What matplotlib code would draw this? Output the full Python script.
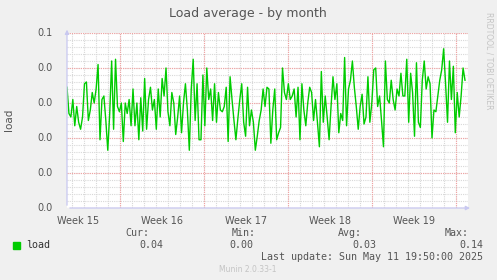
import numpy as np
import matplotlib
matplotlib.use("Agg")
import matplotlib.pyplot as plt

# ---- data ----
load_values = [
    0.069, 0.054, 0.052, 0.062, 0.047, 0.058, 0.049, 0.045, 0.052, 0.071,
    0.072, 0.050, 0.056, 0.066, 0.060, 0.068, 0.082, 0.039, 0.062, 0.064,
    0.050, 0.033, 0.054, 0.084, 0.045, 0.085, 0.058, 0.055, 0.060, 0.038,
    0.060, 0.054, 0.062, 0.047,
    0.068, 0.047, 0.060, 0.039, 0.063, 0.044, 0.074, 0.045, 0.062, 0.069,
    0.056, 0.062, 0.045, 0.068, 0.052, 0.074, 0.064, 0.080, 0.055, 0.047,
    0.066, 0.060, 0.042, 0.052, 0.064, 0.043, 0.060, 0.071, 0.056, 0.033,
    0.068, 0.085, 0.050, 0.071, 0.039,
    0.039, 0.076, 0.047, 0.080, 0.062, 0.068, 0.050, 0.071, 0.049, 0.066,
    0.056, 0.055, 0.058, 0.069, 0.038, 0.075, 0.062, 0.050, 0.039, 0.051,
    0.062, 0.071, 0.049, 0.041, 0.069, 0.047, 0.056, 0.049, 0.033, 0.041,
    0.050, 0.056, 0.068, 0.058, 0.069,
    0.068, 0.037, 0.056, 0.068, 0.039, 0.043, 0.046, 0.080, 0.066, 0.062,
    0.071, 0.062, 0.064, 0.068, 0.052, 0.069, 0.039, 0.071, 0.056, 0.047,
    0.060, 0.069, 0.066, 0.050, 0.062, 0.049, 0.035, 0.078, 0.049, 0.064,
    0.052, 0.039, 0.058, 0.075, 0.062,
    0.071, 0.043, 0.054, 0.050, 0.086, 0.047, 0.068, 0.073, 0.084, 0.069,
    0.058, 0.045, 0.058, 0.065, 0.048, 0.052, 0.075, 0.049, 0.060, 0.079,
    0.080, 0.058, 0.064, 0.050, 0.035, 0.084, 0.062, 0.060, 0.073, 0.062,
    0.056, 0.068, 0.064, 0.077, 0.064,
    0.064, 0.085, 0.049, 0.077, 0.066, 0.041, 0.083, 0.049, 0.046, 0.073,
    0.084, 0.068, 0.075, 0.071, 0.040, 0.056, 0.055, 0.064, 0.073, 0.079,
    0.091, 0.071, 0.049, 0.084, 0.062, 0.081, 0.043, 0.066, 0.052, 0.064,
    0.080, 0.073,
]
week_labels = ["Week 15", "Week 16", "Week 17", "Week 18", "Week 19"]
week_starts = [-2.58, 4.42, 11.42, 18.42, 25.42]  # days from left edge
y_tick_values = [0.0, 0.02, 0.04, 0.06, 0.08, 0.1]
y_tick_labels = ["0.0", "0.0", "0.0", "0.0", "0.0", "0.1"]
legend_name = "load"
stat_names = ["Cur:", "Min:", "Avg:", "Max:"]
stat_values = ["0.04", "0.00", "0.03", "0.14"]
last_update = "Last update: Sun May 11 19:50:00 2025"
x_span_days = 401 / 12.0
data_span_days = 398 / 12.0

W, H = 497, 280
fig = plt.figure(figsize=(W / 100, H / 100), dpi=100, facecolor="#F0F0F0")
ax = fig.add_axes([67 / W, 1 - 208 / H, 401 / W, 175 / H])
ax.set_facecolor("white")

n = len(load_values)
xs = np.arange(n) * (data_span_days / (n - 1))
ax.set_xlim(0, x_span_days)
ax.set_ylim(0, 0.1)

# minor grid
grey = "#d8d8d8"
red = "#f2a0a0"
for d in np.arange(0.42, x_span_days, 1.0):
    ax.axvline(d, color=grey, lw=0.8, ls=(0, (1, 1)), zorder=1)
for yv in np.arange(0, 0.1001, 0.004):
    ax.axhline(yv, color=grey, lw=0.8, ls=(0, (1, 1)), zorder=1)
for ws in week_starts[1:]:
    ax.axvline(ws, color=red, lw=0.8, ls=(0, (1, 1)), zorder=2)
ax.axvline(week_starts[-1] + 7, color=red, lw=0.8, ls=(0, (1, 1)), zorder=2)
for yv in y_tick_values:
    ax.axhline(yv, color=red, lw=0.8, ls=(0, (1, 1)), zorder=2)

ax.plot(xs, load_values, color="#00CC00", lw=1.0, zorder=3)

for s in ax.spines.values():
    s.set_visible(False)
ax.set_xticks([])
ax.set_yticks([])

txtc = "#555555"
for yv, lab in zip(y_tick_values, y_tick_labels):
    ax.text(-0.035, yv, lab, transform=ax.get_yaxis_transform(), ha="right",
            va="center", fontsize=7, color=txtc)
for ws, lab in zip(week_starts, week_labels):
    ax.text(ws + 3.5, -0.0045, lab, ha="center", va="top", fontsize=7, color=txtc,
            clip_on=False)

# axes lines with arrows
axc = "#c8c8f0"
ax.annotate("", xy=(0, 1.035), xytext=(0, 0), xycoords="axes fraction",
            arrowprops=dict(arrowstyle="-|>", color=axc, lw=0.9, mutation_scale=6))
ax.annotate("", xy=(1.012, 0), xytext=(0, 0), xycoords="axes fraction",
            arrowprops=dict(arrowstyle="-|>", color=axc, lw=0.9, mutation_scale=6))

fig.text(248 / W, 1 - 13 / H, "Load average - by month", ha="center", va="center",
         fontsize=9, color=txtc)
fig.text(9 / W, 1 - 120 / H, "load", rotation=90, ha="center", va="center",
         fontsize=7.5, color=txtc)
fig.text(489 / W, 1 - 61 / H, "RRDTOOL / TOBI OETIKER", rotation=270, ha="center",
         va="center", fontsize=5.5, color="#c4c4c4")

mono = "DejaVu Sans Mono"
fs = 7.2
fig.patches.append(plt.Rectangle((13 / W, 1 - 249 / H), 7 / W, 7 / H,
                                 transform=fig.transFigure, color="#00CC00"))
fig.text(26 / W, 1 - 245 / H, legend_name, ha="left", va="center", family=mono,
         fontsize=fs, color="#333333")
stat_name_right = [149, 256, 362, 469]
stat_val_right = [163, 253, 376, 483]
for nm, v, nr, vr in zip(stat_names, stat_values, stat_name_right, stat_val_right):
    fig.text(nr / W, 1 - 233 / H, nm, ha="right", va="center", family=mono,
             fontsize=fs, color=txtc)
    fig.text(vr / W, 1 - 245 / H, v, ha="right", va="center", family=mono,
             fontsize=fs, color=txtc)
fig.text(483 / W, 1 - 257 / H, last_update, ha="right", va="center", family=mono,
         fontsize=fs, color=txtc)
fig.text(248 / W, 1 - 269 / H, "Munin 2.0.33-1", ha="center", va="center",
         fontsize=5.5, color="#c4c4c4")

fig.savefig("out.png", dpi=100, facecolor=fig.get_facecolor())
